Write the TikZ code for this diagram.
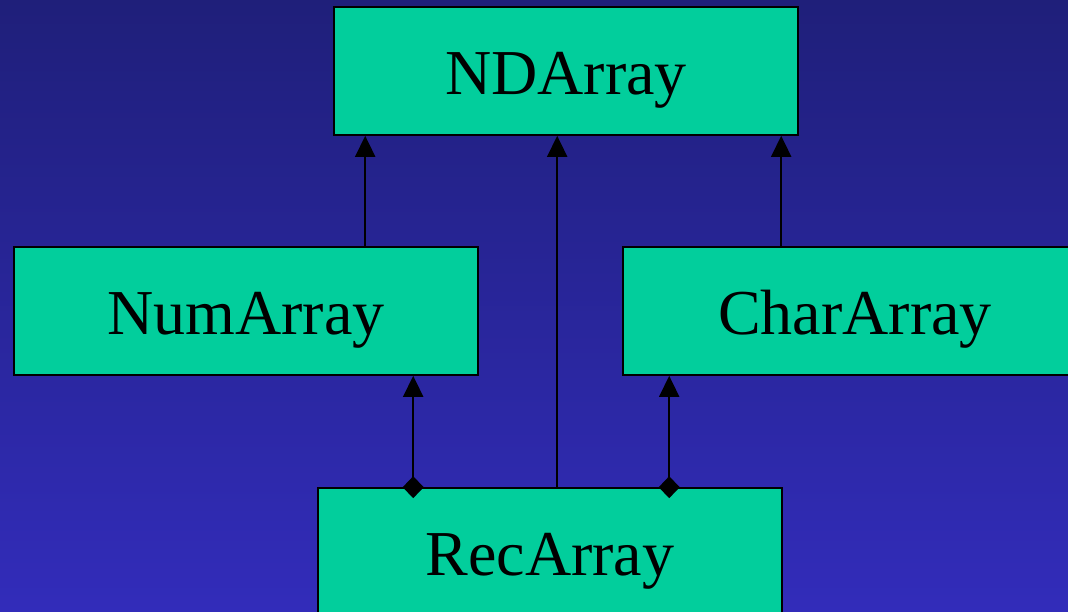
\documentclass[tikz,border=0pt]{standalone}
\usepackage{fontspec}
\setmainfont{Liberation Serif}
\usetikzlibrary{arrows.meta,calc}
\definecolor{bgtop}{RGB}{31,31,122}
\definecolor{bgbottom}{RGB}{50,44,186}
\definecolor{boxfill}{RGB}{2,206,156}
\tikzset{
  classbox/.style={draw=black, fill=boxfill, line width=1.6pt, inner sep=0pt,
    minimum width=464pt, minimum height=128pt, text height=46pt, text depth=0pt,
    font=\fontsize{64}{70}\selectfont},
  inherit/.style={line width=1.8pt, -{Triangle[length=21pt,width=20pt]}},
  aggregate/.style={line width=1.8pt, {Diamond[length=22pt,width=21pt]}-{Triangle[length=21pt,width=20pt]}, shorten <=-11pt}
}
\begin{document}
\begin{tikzpicture}[x=1pt,y=-1pt]
  \useasboundingbox (0,0) rectangle (1068,611);
  \clip (0,0) rectangle (1068,611);
  % backdrop
  \fill[top color=bgtop, bottom color=bgbottom] (0,0) rectangle (1068,611);

  % classes
  \node[classbox] (nd)   at (566,71)  {NDArray};
  \node[classbox] (num)  at (246,311) {NumArray};
  \node[classbox] (char) at (855,311) {CharArray};
  \node[classbox] (rec)  at (550,552) {RecArray};

  % inheritance links
  \draw[inherit] ([xshift=352pt]num.north west)  -- ([xshift=32pt]nd.south west);
  \draw[inherit] ([xshift=240pt]rec.north west)  -- ([xshift=224pt]nd.south west);
  \draw[inherit] ([xshift=159pt]char.north west) -- ([xshift=448pt]nd.south west);

  % composition links
  \draw[aggregate] ([xshift=96pt]rec.north west)  -- ([xshift=400pt]num.south west);
  \draw[aggregate] ([xshift=352pt]rec.north west) -- ([xshift=47pt]char.south west);
\end{tikzpicture}
\end{document}
